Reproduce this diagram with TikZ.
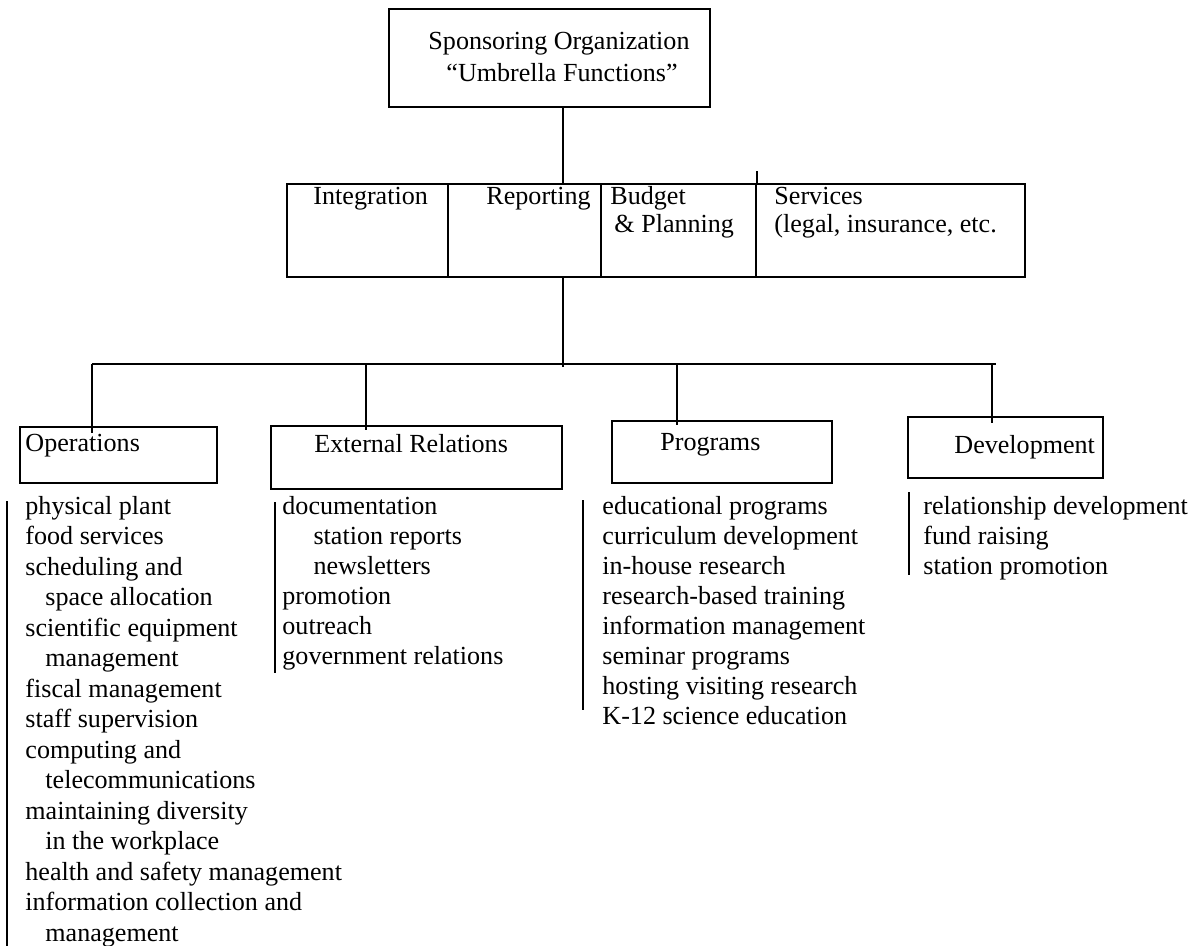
\documentclass[tikz,border=0pt]{standalone}
\usepackage{fontspec}
\setmainfont{Liberation Serif}
\usetikzlibrary{fit}

\tikzset{
  unit/.style={draw, line width=1pt, inner sep=0pt},
  tag/.style={anchor=base west, inner sep=0pt},
  link/.style={line width=1pt}
}

\begin{document}
\begin{tikzpicture}[x=0.46pt, y=-0.46pt, font=\fontsize{12}{14}\selectfont]
  \useasboundingbox (0,0) rectangle (1192,946);

  % sponsoring organization
  \node[unit, fit={(389,9) (710,107)}] (sponsor) {};
  \node[anchor=base, inner sep=0pt] (sponsor-1) at (559,50) {Sponsoring Organization};
  \node[anchor=base, inner sep=0pt] (sponsor-2) at (562,82) {“Umbrella Functions”};

  % umbrella functions
  \node[unit, fit={(287,184) (448,277)}] (integ) {};
  \node[unit, fit={(448,184) (601,277)}] (report) {};
  \node[unit, fit={(601,184) (756,277)}] (budget) {};
  \node[unit, fit={(756,184) (1025,277)}] (serv) {};
  \node[tag] (integ-1) at (313,205) {Integration};
  \node[tag] (report-1) at (486,205) {Reporting};
  \node[tag] (budget-1) at (610,205) {Budget};
  \node[tag] (budget-2) at (614,233) {\& Planning};
  \node[tag] (serv-1) at (774,205) {Services};
  \node[tag] (serv-2) at (774,233) {(legal, insurance, etc.};

  \coordinate (spine) at (563,367);
  \draw[link] (spine |- sponsor.south) -- (spine |- report.north);
  \draw[link] (budget.north east) -- ++(0,-12);
  \draw[link] (spine |- report.south) -- (spine);

  \coordinate (bus-w) at (92,364);
  \coordinate (bus-e) at (996,364);
  \draw[link] (bus-w) -- (bus-e);

  % units
  \node[unit, fit={(20,427) (217,483)}] (ops) {};
  \node[unit, fit={(271,426) (562,489)}] (ext) {};
  \node[unit, fit={(612,421) (832,483)}] (prog) {};
  \node[unit, fit={(908,417) (1103,478)}] (dev) {};
  \node[tag] (ops-t) at (25,451) {Operations};
  \node[tag] (ext-t) at (314,452) {External Relations};
  \node[tag] (prog-t) at (660,450) {Programs};
  \node[tag] (dev-t) at (954,453) {Development};

  \coordinate (ops-in) at (92,433);
  \coordinate (ext-in) at (366,430);
  \coordinate (prog-in) at (677,425);
  \coordinate (dev-in) at (992,423);
  \draw[link] (bus-w) -- (ops-in);
  \draw[link] (ext-in |- bus-w) -- (ext-in);
  \draw[link] (prog-in |- bus-w) -- (prog-in);
  \draw[link] (dev-in |- bus-w) -- (dev-in);

  % lists
  \foreach \t [count=\i] in {physical plant, food services, scheduling and,
      \hspace*{9.2pt}space allocation, scientific equipment,
      \hspace*{9.2pt}management, fiscal management, staff supervision,
      computing and, \hspace*{9.2pt}telecommunications, maintaining diversity,
      \hspace*{9.2pt}in the workplace, health and safety management,
      information collection and, \hspace*{9.2pt}management}
    \node[tag] (ops-\i) at (25,{514+(\i-1)*30.5}) {\t};
  \foreach \t [count=\i] in {documentation, \hspace*{14.3pt}station reports,
      \hspace*{14.3pt}newsletters, promotion, outreach, government relations}
    \node[tag] (ext-\i) at (282,{514+(\i-1)*30}) {\t};
  \foreach \t [count=\i] in {educational programs, curriculum development,
      in-house research, research-based training, information management,
      seminar programs, hosting visiting research, K-12 science education}
    \node[tag] (prog-\i) at (602,{514+(\i-1)*30}) {\t};
  \foreach \t [count=\i] in {relationship development, fund raising,
      station promotion}
    \node[tag] (dev-\i) at (923,{514+(\i-1)*30}) {\t};

  \coordinate (ops-a) at (7,501);
  \coordinate (ops-b) at (7,946);
  \coordinate (ext-a) at (275,502);
  \coordinate (ext-b) at (275,673);
  \coordinate (prog-a) at (583,500);
  \coordinate (prog-b) at (583,710);
  \coordinate (dev-a) at (909,492);
  \coordinate (dev-b) at (909,575);
  \draw[link] (ops-a) -- (ops-b);
  \draw[link] (ext-a) -- (ext-b);
  \draw[link] (prog-a) -- (prog-b);
  \draw[link] (dev-a) -- (dev-b);
\end{tikzpicture}
\end{document}
